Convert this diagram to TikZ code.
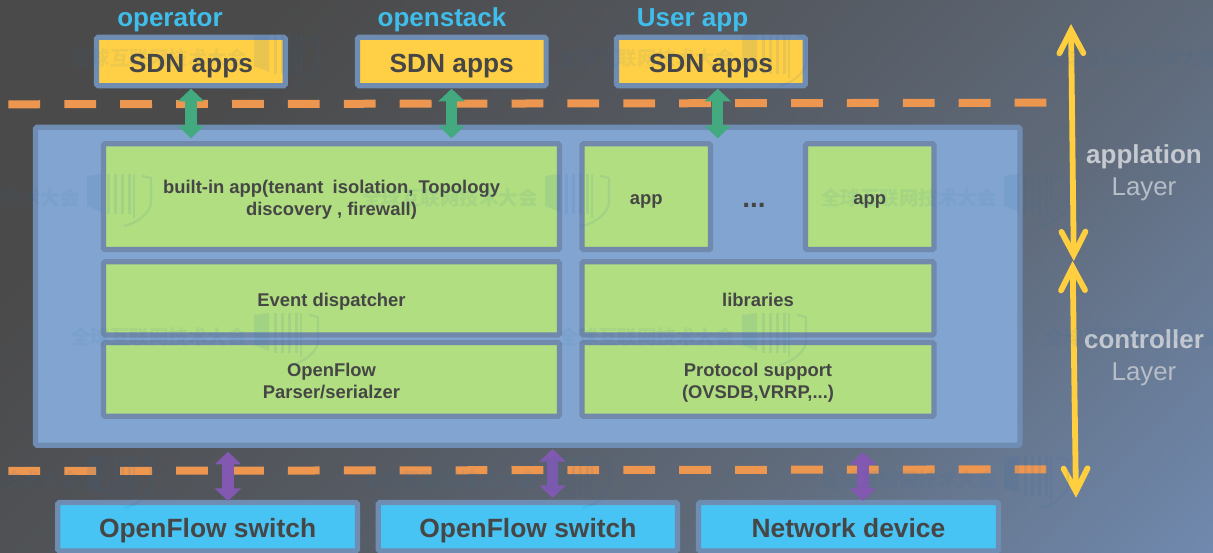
\documentclass[tikz,border=0pt]{standalone}
\usepackage{fontspec}
\setmainfont{Liberation Sans}
\newfontfamily\cjkwm{Noto Sans CJK SC}
\usetikzlibrary{arrows.meta}
\definecolor{inkgrey}{HTML}{464646}
\definecolor{strokeblue}{HTML}{6F8CB3}
\definecolor{innerstroke}{HTML}{7089AC}
\definecolor{panelblue}{HTML}{81A5D0}
\definecolor{leafgreen}{HTML}{B0DE80}
\definecolor{sdnyellow}{HTML}{FFD046}
\definecolor{devblue}{HTML}{47C4F3}
\definecolor{dashorange}{HTML}{EC9650}
\definecolor{arrowgreen}{HTML}{43AA80}
\definecolor{arrowpurple}{HTML}{8258B0}
\definecolor{arrowyellow}{HTML}{FFCF40}
\definecolor{titleblue}{HTML}{3FBDEB}
\definecolor{layerbold}{HTML}{C6CAD0}
\definecolor{layerthin}{HTML}{B7BDC7}
\definecolor{wmblue}{HTML}{2C6CA6}
\pgfdeclareverticalshading{bggrad}{100bp}{
  rgb(0bp)=(0.290,0.290,0.290);
  rgb(33bp)=(0.290,0.290,0.290);
  rgb(47bp)=(0.329,0.345,0.373);
  rgb(60bp)=(0.373,0.416,0.478);
  rgb(75bp)=(0.439,0.537,0.682);
  rgb(100bp)=(0.439,0.537,0.682)}
\newcommand{\liftone}[2]{\raisebox{-#1pt}[0pt][0pt]{#2}}
\newcommand{\lifttwo}[3]{\raisebox{-#1pt}[0pt][0pt]{\begin{tabular}[b]{@{}c@{}}#2\\#3\end{tabular}}}
\tikzset{
  x=1pt,y=-1pt,
  boxbase/.style={draw=strokeblue,line width=5.2pt,rounded corners=1.5pt,inner sep=0pt,outer sep=0pt,text=inkgrey,align=center},
  sdnbox/.style={boxbase,fill=sdnyellow,minimum width=188.7pt,minimum height=48.4pt,font=\fontsize{26.3}{30}\selectfont\bfseries},
  leafbox/.style={boxbase,draw=innerstroke,fill=leafgreen,font=\fontsize{18.4}{22}\selectfont\bfseries},
  devbox/.style={boxbase,fill=devblue,minimum height=48.5pt,font=\fontsize{26.4}{30}\selectfont\bfseries},
  paneltop/.style={draw=strokeblue,fill=panelblue,line width=5.2pt,rounded corners=1.5pt,inner sep=0pt,outer sep=0pt},
  titletext/.style={anchor=base,text=titleblue,inner sep=0pt,font=\fontsize{26}{30}\selectfont\bfseries},
  layerb/.style={anchor=base,text=layerbold,inner sep=0pt,font=\fontsize{26}{30}\selectfont\bfseries},
  layert/.style={anchor=base,text=layerthin,inner sep=0pt,font=\fontsize{25.8}{30}\selectfont},
  orangedash/.style={draw=dashorange,line width=8pt,dash pattern=on 31.8pt off 24.1pt},
  greenarrow/.style={draw=arrowgreen,fill=arrowgreen,line width=11.5pt,{Triangle[length=12.7pt,width=26pt]}-{Triangle[length=12.7pt,width=26pt]}},
  purplearrow/.style={draw=arrowpurple,fill=arrowpurple,line width=11.5pt,{Triangle[length=12.7pt,width=26pt]}-{Triangle[length=12.7pt,width=26pt]}},
  yellowarrow/.style={draw=arrowyellow,line width=5.8pt,{Straight Barb[length=23pt,width=24pt,line cap=round,line join=miter]}-{Straight Barb[length=23pt,width=24pt,line cap=round,line join=miter]}},
  wmtext/.style={text=wmblue,text opacity=.08,inner sep=0pt,font=\fontsize{19.5}{22}\cjkwm\bfseries},
  wmbar/.style={fill=wmblue,fill opacity=.10},
  wmline/.style={draw=wmblue,draw opacity=.10,line width=2.2pt}
}
\newcount\wmcount
\newcommand{\wmmark}[2]{% x of the logo centre, y
  \global\advance\wmcount by 1
  \node[wmtext,anchor=east] (wm\the\wmcount) at (#1-40,#2) {全球互联网技术大会};
  \begin{scope}[shift={(#1,#2)}]
    \fill[wmbar] (-33,-22) -- (-18,-24) -- (-18,14) -- (-33,8) -- cycle;
    \foreach \bx in {-13,-6,1,8}{\fill[wmbar] (\bx,-24) rectangle (\bx+3.2,16);}
    \draw[wmline] (14,-24) -- (14,20);
    \draw[wmline] (22,-22) -- (31,-20) -- (31,6) .. controls (28,18) and (14,26) .. (4,28);
  \end{scope}
}
\begin{document}
\begin{tikzpicture}
\useasboundingbox (0,0) rectangle (1213,553);
\begin{scope}
  \clip (0,0) rectangle (1213,553);
  \shade[shading=bggrad,shading angle=-134] (606.5-627.5,276.5-627.5) rectangle (606.5+627.5,276.5+627.5);
\end{scope}

% layer separators
\coordinate (dashTopL) at (8.4,104.3);
\coordinate (dashTopR) at (1047.6,102.7);
\coordinate (dashLowL) at (8.4,471);
\coordinate (dashLowR) at (1047.6,469.3);
\draw[orangedash] (dashTopL) -- (dashTopR);
\draw[orangedash] (dashLowL) -- (dashLowR);

% controller panel
\node[paneltop,minimum width=984.5pt,minimum height=317.9pt] (panel) at (527.8,286.25) {};

% titles and SDN apps
\node[titletext] (tOperator) at (170,26.3) {operator};
\node[titletext] (tOpenstack) at (442,26.3) {openstack};
\node[titletext] (tUser) at (692.6,26.3) {User app};
\node[sdnbox] (sdnA) at (190.9,61.5) {\liftone{11}{SDN apps}};
\node[sdnbox] (sdnB) at (451.75,61.5) {\liftone{11}{SDN apps}};
\node[sdnbox] (sdnC) at (710.9,61.5) {\liftone{11}{SDN apps}};

% inner blocks
\node[leafbox,minimum width=456pt,minimum height=105.8pt] (builtin) at (331.5,196.7) {\lifttwo{19.2}{built-in app(tenant\hspace{4pt} isolation, Topology}{discovery , firewall)}};
\node[leafbox,minimum width=128.5pt,minimum height=105.8pt] (appA) at (646.25,196.7) {\liftone{8}{app}};
\node[leafbox,minimum width=128.5pt,minimum height=105.8pt] (appB) at (869.75,196.7) {\liftone{8}{app}};
\node[anchor=base,text=inkgrey,inner sep=0pt,font=\fontsize{28}{30}\selectfont\bfseries] (dots) at (754,208) {...};
\node[leafbox,minimum width=456pt,minimum height=73.2pt] (event) at (331.5,298.4) {\liftone{8.4}{Event dispatcher}};
\node[leafbox,minimum width=352pt,minimum height=73.2pt] (libs) at (758,298.4) {\liftone{8.4}{libraries}};
\node[leafbox,minimum width=456pt,minimum height=73.6pt] (ofparser) at (331.5,379.4) {\lifttwo{19.4}{OpenFlow}{Parser/serialzer}};
\node[leafbox,minimum width=352pt,minimum height=73.6pt] (proto) at (758,379.4) {\lifttwo{19.4}{Protocol support}{(OVSDB,VRRP,...)}};

% devices
\node[devbox,minimum width=299.6pt] (swA) at (207.6,526.75) {\liftone{10.6}{OpenFlow switch}};
\node[devbox,minimum width=299.2pt] (swB) at (527.9,526.75) {\liftone{10.6}{OpenFlow switch}};
\node[devbox,minimum width=300pt] (dev) at (848.5,526.75) {\liftone{10.6}{Network device}};

% green arrows
\coordinate (gAa) at (191,88.7); \coordinate (gAb) at (191,138.3);
\coordinate (gBa) at (451.6,88.7); \coordinate (gBb) at (451.6,138.3);
\coordinate (gCa) at (717.7,88.7); \coordinate (gCb) at (717.7,138.3);
\draw[greenarrow] (gAa) -- (gAb);
\draw[greenarrow] (gBa) -- (gBb);
\draw[greenarrow] (gCa) -- (gCb);

% purple arrows
\coordinate (pAa) at (228,451.7); \coordinate (pAb) at (228,501);
\coordinate (pBa) at (552.6,449); \coordinate (pBb) at (552.6,498);
\coordinate (pCa) at (863,452); \coordinate (pCb) at (863,501);
\draw[purplearrow] (pAa) -- (pAb);
\draw[purplearrow] (pBa) -- (pBb);
\draw[purplearrow] (pCa) -- (pCb);

% yellow layer arrows
\coordinate (yTop) at (1071,24);
\coordinate (yMidA) at (1073.8,261);
\coordinate (yMidB) at (1072.6,261);
\coordinate (yEnd) at (1076,497.7);
\draw[yellowarrow] (yTop) -- (yMidA);
\draw[yellowarrow] (yMidB) -- (yEnd);

% layer labels
\node[layerb] (lApp) at (1144,163.7) {applation};
\node[layert] (lAppL) at (1144,196) {Layer};
\node[layerb] (lCtl) at (1144,348.7) {controller};
\node[layert] (lCtlL) at (1144,381) {Layer};

% faint watermarks
\wmmark{287}{58}
\wmmark{775}{58}
\wmmark{1260}{58}
\wmmark{120}{198}
\wmmark{578}{198}
\wmmark{1037}{198}
\wmmark{287}{337}
\wmmark{775}{337}
\wmmark{1260}{337}
\wmmark{120}{480}
\wmmark{578}{480}
\wmmark{1037}{480}
\end{tikzpicture}
\end{document}
